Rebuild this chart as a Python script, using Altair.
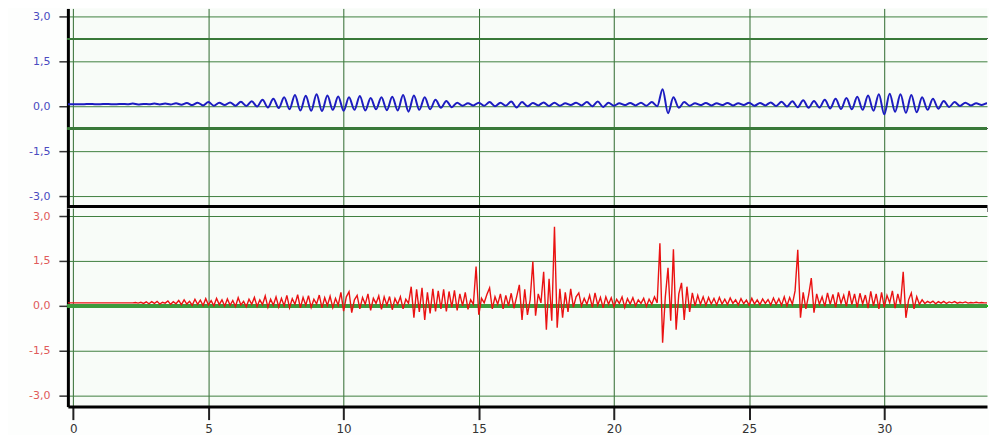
import altair as alt
import pandas as pd

# sampling of the two traces (start time and step, seconds)
T0 = -0.2
BLUE_DT = 0.2
RED_DT = 0.1

blue_values = [
    0.07, 0.07, 0.07, 0.07, 0.08, 0.07, 0.07, 0.08, 0.07, 0.07,
    0.08, 0.07, 0.09, 0.06, 0.08, 0.07, 0.09, 0.06, 0.09, 0.06,
    0.10, 0.05, 0.11, 0.04, 0.12, 0.03, 0.14, 0.02, 0.12, 0.04,
    0.13, 0.02, 0.15, 0.01, 0.17, -0.01, 0.22, -0.04, 0.25, -0.06,
    0.30, -0.10, 0.38, -0.14, 0.35, -0.15, 0.40, -0.16, 0.36, -0.12,
    0.33, -0.15, 0.30, -0.12, 0.34, -0.14, 0.28, -0.10, 0.30, -0.13,
    0.32, -0.14, 0.38, -0.18, 0.36, -0.12, 0.30, -0.10, 0.22, -0.05,
    0.18, -0.03, 0.12, 0.02, 0.10, 0.03, 0.12, 0.02, 0.14, 0.00,
    0.12, 0.02, 0.16, -0.04, 0.14, 0.00, 0.11, 0.03, 0.13, 0.01,
    0.12, 0.02, 0.10, 0.04, 0.12, 0.03, 0.14, 0.00, 0.16, -0.02,
    0.12, 0.02, 0.10, 0.04, 0.11, 0.03, 0.12, 0.02, 0.14, 0.00,
    0.57, -0.23, 0.30, -0.05, 0.14, 0.02, 0.10, 0.04, 0.11, 0.03,
    0.10, 0.04, 0.11, 0.03, 0.10, 0.04, 0.12, 0.02, 0.11, 0.03,
    0.13, 0.01, 0.15, -0.01, 0.17, -0.03, 0.20, -0.05, 0.18, -0.04,
    0.22, -0.07, 0.25, -0.09, 0.28, -0.10, 0.32, -0.12, 0.36, -0.15,
    0.40, -0.27, 0.42, -0.18, 0.40, -0.22, 0.38, -0.20, 0.30, -0.12,
    0.25, -0.08, 0.18, -0.02, 0.14, 0.01, 0.12, 0.03, 0.10, 0.04,
    0.10, 0.05, 0.08,
]

red_values = [
    0.10, 0.10, 0.10, 0.10, 0.10, 0.10, 0.10, 0.10, 0.10, 0.10, 0.10, 0.10, 0.10, 0.10, 0.10, 0.10, 0.10, 0.10, 0.10, 0.10,
    0.10, 0.10, 0.10, 0.10, 0.10, 0.11, 0.09, 0.12, 0.08, 0.13, 0.07, 0.14, 0.08, 0.15, 0.06, 0.12, 0.09, 0.16, 0.05, 0.14,
    0.07, 0.18, 0.04, 0.20, 0.06, 0.15, 0.02, 0.22, 0.05, 0.19, 0.01, 0.24, 0.03, 0.17, 0.00, 0.25, 0.04, 0.20, -0.01, 0.23,
    0.02, 0.18, -0.02, 0.27, 0.03, 0.15, -0.03, 0.22, 0.05, 0.28, -0.02, 0.20, 0.04, 0.33, -0.05, 0.22, 0.02, 0.30, -0.04, 0.25,
    0.00, 0.35, -0.06, 0.24, 0.05, 0.37, -0.07, 0.28, 0.02, 0.34, -0.05, 0.22, 0.06, 0.36, -0.07, 0.27, 0.01, 0.32, -0.06, 0.25,
    0.02, 0.45, -0.18, 0.30, 0.47, -0.23, 0.20, 0.35, -0.10, 0.28, 0.05, 0.40, -0.15, 0.25, 0.08, 0.33, -0.12, 0.30, 0.02, 0.31,
    -0.13, 0.25, 0.05, 0.30, -0.10, 0.22, 0.08, 0.64, -0.40, 0.55, -0.20, 0.60, -0.47, 0.45, -0.25, 0.57, -0.19, 0.50, -0.10, 0.55,
    -0.19, 0.48, -0.05, 0.52, -0.15, 0.40, 0.00, 0.45, -0.12, 0.20, 0.05, 1.31, -0.30, 0.25, 0.10, 0.38, 0.60, -0.10, 0.30, 0.05,
    0.40, -0.10, 0.35, 0.00, 0.42, -0.08, 0.30, 0.70, -0.47, 0.55, -0.30, 0.20, 1.48, -0.33, 0.40, 0.10, 1.14, -0.80, 0.90, -0.50,
    2.64, -0.73, 0.57, -0.40, 0.45, -0.20, 0.57, -0.05, 0.30, 0.43, 0.00, 0.25, 0.05, 0.35, -0.05, 0.43, 0.02, 0.28, -0.07, 0.30,
    0.05, 0.27, -0.03, 0.22, 0.08, 0.30, -0.05, 0.24, 0.06, 0.27, 0.00, 0.20, 0.08, 0.25, -0.02, 0.22, 0.05, 0.30, 0.10, 2.09,
    -1.23, 0.30, 1.27, -0.50, 1.89, -0.80, 0.40, 0.77, -0.47, 0.64, -0.20, 0.43, 0.00, 0.35, 0.05, 0.30, 0.02, 0.28, 0.06, 0.25,
    0.03, 0.28, 0.06, 0.22, 0.04, 0.26, 0.08, 0.20, 0.03, 0.24, 0.07, 0.19, 0.02, 0.25, 0.06, 0.20, 0.04, 0.23, 0.08, 0.21,
    0.03, 0.26, 0.05, 0.24, 0.02, 0.30, 0.00, 0.28, 0.05, 0.50, 1.87, -0.40, 0.45, -0.10, 0.35, 0.93, -0.23, 0.40, 0.05, 0.30,
    -0.02, 0.43, 0.05, 0.38, -0.05, 0.45, 0.08, 0.35, -0.02, 0.50, 0.04, 0.40, -0.05, 0.42, 0.06, 0.36, -0.08, 0.48, 0.00, 0.40,
    -0.10, 0.45, -0.05, 0.35, 0.10, 0.50, -0.08, 0.40, 0.05, 1.14, -0.40, 0.20, 0.43, -0.10, 0.30, 0.05, 0.20, 0.08, 0.15, 0.10,
    0.16, 0.07, 0.14, 0.09, 0.15, 0.08, 0.13, 0.10, 0.14, 0.09, 0.12, 0.10, 0.13, 0.09, 0.11, 0.10, 0.12, 0.10, 0.11, 0.10,
    0.10, 0.11, 0.10, 0.10, 0.10,
]

x_ticks = [0, 5, 10, 15, 20, 25, 30]
y_grid = [-3, -2.25, -1.5, -0.75, 0, 0.75, 1.5, 2.25, 3]
top_thick = [2.25, -0.75]
bottom_thick = [0]

blue_df = pd.DataFrame({"t": [round(T0 + i * BLUE_DT, 3) for i in range(len(blue_values))],
                        "v": blue_values})
red_df = pd.DataFrame({"t": [round(T0 + i * RED_DT, 3) for i in range(len(red_values))],
                       "v": red_values})

X_DOMAIN = [-0.2, 33.8]
FONT = "DejaVu Sans"
LABEL_EXPR = ("abs(datum.value*2/3 - round(datum.value*2/3)) < 0.001 ? "
              "replace((datum.value < 0 ? '-' : '') + format(abs(datum.value), '.1f'), '.', ',') : ''")


def panel(df, color, width_px, interp, y_domain, label_color, height, bottom,
          thick_vals, thick_color, thick_w):
    if bottom:
        x_axis = alt.Axis(values=x_ticks, grid=True, gridColor="#2f6a2f", gridWidth=1,
                          domain=True, domainColor="black", domainWidth=3,
                          ticks=True, tickColor="#222", tickSize=13, tickWidth=2,
                          labels=True, labelColor="#333", labelFont=FONT, labelFontSize=12,
                          labelPadding=4, title=None)
    else:
        x_axis = alt.Axis(values=x_ticks, grid=True, gridColor="#2f6a2f", gridWidth=1,
                          domain=True, domainColor="black", domainWidth=7,
                          ticks=False, labels=False, title=None, minExtent=0, maxExtent=0)
    y_axis = alt.Axis(values=y_grid, grid=True, gridColor="#3f7f3f", gridWidth=1,
                      domain=True, domainColor="black", domainWidth=3,
                      ticks=True, tickColor="#333", tickSize=9, tickWidth=1.5,
                      labelExpr=LABEL_EXPR, labelColor=label_color, labelFont=FONT,
                      labelFontSize=11, labelPadding=9, title=None,
                      minExtent=60, maxExtent=60)
    x = alt.X("t:Q", scale=alt.Scale(domain=X_DOMAIN, nice=False, zero=False), axis=x_axis)
    y = alt.Y("v:Q", scale=alt.Scale(domain=y_domain, nice=False, zero=False), axis=y_axis)
    line = alt.Chart(df).mark_line(color=color, strokeWidth=width_px, clip=True,
                                   interpolate=interp).encode(x=x, y=y)
    layers = []
    for tv in thick_vals:
        layers.append(
            alt.Chart(df).mark_rule(color=thick_color, strokeWidth=thick_w).encode(y=alt.datum(tv))
        )
    return alt.layer(*layers, line).properties(width=921, height=height)


top = panel(blue_df, "#1c1cc0", 2, "monotone", [-3.4, 3.27], "#4a4ac0", 200, False,
            top_thick, "#3a7a3a", 1.8)
bottom = panel(red_df, "#ea1212", 1.4, "linear", [-3.37, 3.27], "#e05a5a", 199, True,
               bottom_thick, "#3c9a3c", 3)

chart = alt.vconcat(top, bottom, spacing=0).properties(
    padding={"left": 0, "top": 0, "right": 0, "bottom": 0},
    background="#fdfefd",
).configure_view(stroke=None, fill="#f8fcf8")

chart.save("out.html", embed_options={"renderer": "svg", "actions": False})
